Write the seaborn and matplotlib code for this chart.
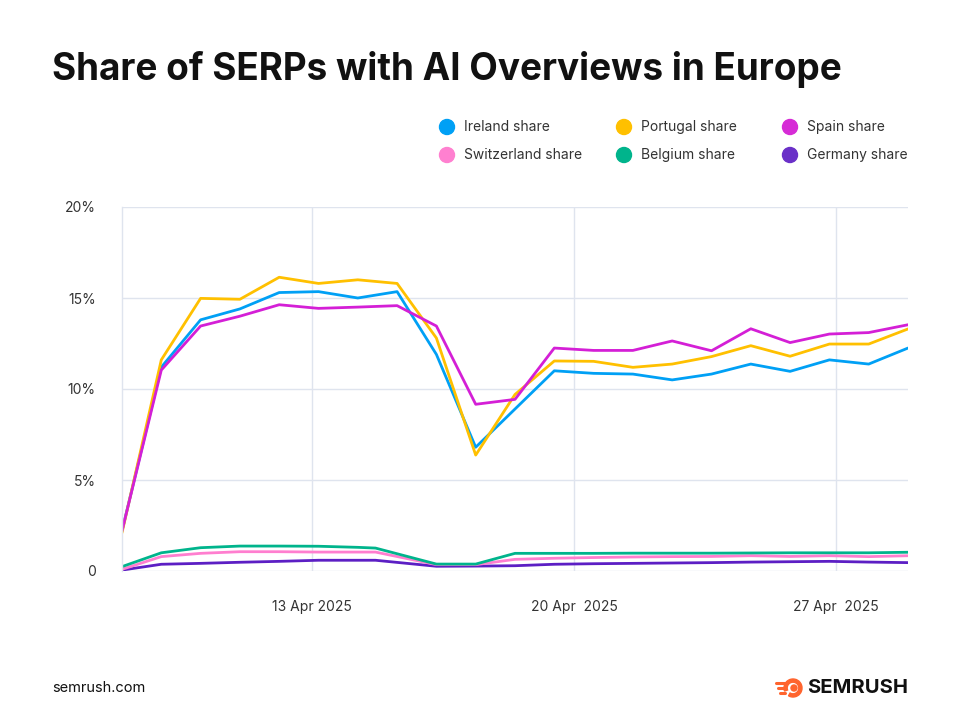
"""Share of SERPs with AI Overviews in Europe - line chart"""
import pandas as pd
import seaborn as sns
import matplotlib.pyplot as plt
from matplotlib.patches import Circle, Wedge

# point index of each reading (the three big series share this grid)
main_x = list(range(21))
# the three small series bend a bit earlier after the plateau
low_x = [0, 1, 2, 3, 4, 5, 6, 6.45, 8, 9, 10, 11, 12, 13, 14, 15, 16, 17, 18, 19, 20]

ireland = [2.2, 11.2, 13.8, 14.4, 15.3, 15.35, 15.0, 15.35, 11.9, 6.8, 8.9,
           11.0, 10.86, 10.82, 10.5, 10.82, 11.37, 10.97, 11.6, 11.37, 12.25]
portugal = [2.1, 11.6, 14.98, 14.93, 16.14, 15.8, 16.0, 15.8, 12.8, 6.37, 9.7,
            11.54, 11.52, 11.19, 11.37, 11.78, 12.38, 11.8, 12.47, 12.47, 13.3]
spain = [2.2, 11.04, 13.46, 14.0, 14.63, 14.43, 14.5, 14.58, 13.46, 9.16, 9.43,
         12.25, 12.12, 12.12, 12.64, 12.1, 13.31, 12.55, 13.02, 13.1, 13.53]
switzerland = [0.09, 0.79, 0.97, 1.06, 1.06, 1.04, 1.04, 1.04, 0.35, 0.35, 0.64,
               0.7, 0.74, 0.77, 0.79, 0.8, 0.84, 0.8, 0.84, 0.79, 0.84]
belgium = [0.24, 1.0, 1.28, 1.37, 1.37, 1.36, 1.3, 1.26, 0.38, 0.38, 0.97,
           0.97, 0.97, 0.98, 0.98, 0.98, 0.99, 1.0, 1.0, 1.0, 1.03]
germany = [0.05, 0.37, 0.42, 0.48, 0.53, 0.59, 0.59, 0.59, 0.26, 0.27, 0.29,
           0.37, 0.4, 0.42, 0.44, 0.46, 0.49, 0.51, 0.53, 0.49, 0.46]

series_names = ['Ireland share', 'Portugal share', 'Spain share',
                'Switzerland share', 'Belgium share', 'Germany share']
colors = ['#00a0f5', '#ffc000', '#d41fd6', '#ff7ecf', '#00b48c', '#5c1fc4']
legend_colors = ['#00a0f5', '#ffc000', '#d62bd6', '#ff80d0', '#00b48c', '#6a30c8']

tick_pos = [4.835, 11.5, 18.17]
tick_labels = ['13 Apr 2025', '20 Apr  2025', '27 Apr  2025']
y_ticks = [0, 5, 10, 15, 20]
y_labels = ['0', '5%', '10%', '15%', '20%']

rows = []
for name, vals in zip(series_names, [ireland, portugal, spain]):
    for x, v in zip(main_x, vals):
        rows.append({'x': x, 'share': v, 'series': name})
for name, vals in zip(series_names[3:], [switzerland, belgium, germany]):
    for x, v in zip(low_x, vals):
        rows.append({'x': x, 'share': v, 'series': name})
data = pd.DataFrame(rows)

sns.set_theme(style='white')
plt.rcParams['font.family'] = ['Inter', 'DejaVu Sans']

fig = plt.figure(figsize=(9.6, 7.14), dpi=100)
ax = fig.add_axes([122 / 960, 1 - 571 / 714, (908 - 122) / 960, (571 - 207) / 714])

# draw order: small series first, big ones on top (Spain last)
draw_order = ['Germany share', 'Switzerland share', 'Belgium share',
              'Ireland share', 'Portugal share', 'Spain share']
palette = dict(zip(series_names, colors))
for name in draw_order:
    sub = data[data['series'] == name]
    sns.lineplot(data=sub, x='x', y='share', color=palette[name], linewidth=2.0,
                 estimator=None, ax=ax, legend=False)

ax.set_xlim(0, 20)
ax.set_ylim(0, 20)
ax.set_yticks(y_ticks)
ax.set_yticklabels(y_labels)
ax.set_xticks(tick_pos)
ax.set_xticklabels(tick_labels)
ax.tick_params(axis='both', length=0, labelsize=10, colors='#333333')
ax.tick_params(axis='y', pad=19)
ax.tick_params(axis='x', pad=21)
ax.set_xlabel('')
ax.set_ylabel('')
ax.grid(True, color='#dfe4ee', linewidth=1)
ax.set_axisbelow(True)
for side in ['top', 'right', 'bottom']:
    ax.spines[side].set_visible(False)
ax.spines['left'].set_color('#dfe4ee')
ax.spines['left'].set_linewidth(1)

# title
fig.text(52 / 960, 1 - 69 / 714, 'Share of SERPs with AI Overviews in Europe',
         fontsize=26.6, fontweight='bold', color='#111111', va='center', ha='left')

# legend, two rows of three
leg_dot_x = [447, 624, 790]
leg_row_y = [127, 155]
for i, name in enumerate(series_names):
    col, row = i % 3, i // 3
    fx = leg_dot_x[col] / 960
    fy = 1 - leg_row_y[row] / 714
    fig.add_artist(Circle((leg_dot_x[col], 714 - leg_row_y[row]), 7.5,
                          transform=None, color=legend_colors[i]))
    fig.text(fx + 17 / 960, fy, name, fontsize=10, color='#333333',
             va='center', ha='left')

# footer
fig.text(52 / 960, 1 - 688 / 714, 'semrush.com', fontsize=10.5,
         color='#111111', va='center', ha='left')
fig.text(908 / 960, 1 - 688 / 714, 'SEMRUSH', fontsize=14.5, fontweight='bold',
         color='#111111', va='center', ha='right')
# simple flame-like logo mark
fig.add_artist(Wedge((793, 714 - 688), 9, -120, 200, width=3.2,
                     transform=None, color='#ff642d'))
fig.add_artist(Circle((794, 714 - 688), 3, transform=None, color='#ff642d'))
for dy, x0 in [(5, 776), (0, 778), (-5, 780)]:
    fig.add_artist(plt.Line2D([x0, 785], [714 - 688 + dy, 714 - 688 + dy],
                              transform=None, color='#ff642d', linewidth=2.2))

fig.savefig('out.png', dpi=100)
plt.close(fig)
print('Plot saved to out.png')
